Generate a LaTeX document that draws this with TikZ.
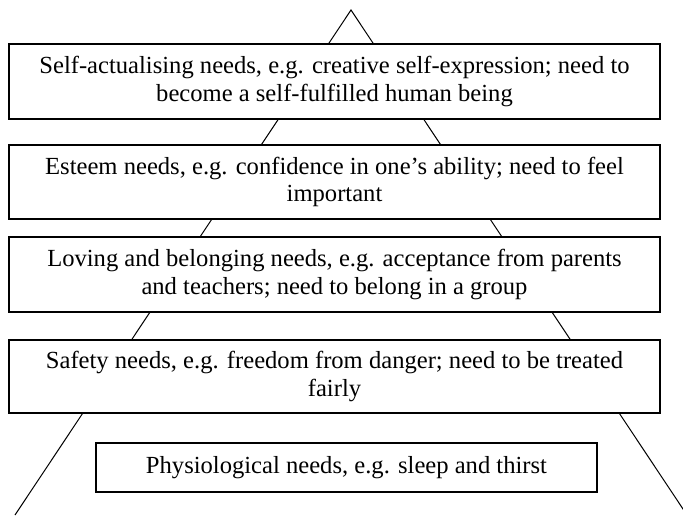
\documentclass[tikz,border=0pt]{standalone}
\usepackage{fontspec}
\setmainfont{Liberation Serif}
\begin{document}
\begin{tikzpicture}[x=1pt,y=-1pt,
  level/.style={draw, line width=1.2pt, fill=white, align=center, inner sep=0pt,
    font=\fontsize{24.6}{27.5}\selectfont},
  side/.style={line width=1pt}]
  \useasboundingbox (0,0) rectangle (683,523);
  % outline of the pyramid behind the boxes
  \coordinate (apex) at (351,10);
  \coordinate (footL) at (15,515);
  \coordinate (footR) at (687,515);
  \draw[side] (footL) -- (apex) -- (footR);
  % the five levels
  \node[level, minimum width=651pt, minimum height=75pt] (self) at (334.5,81.5)
    {Self-actualising needs, e.g. creative self-expression; need to\\become a self-fulfilled human being};
  \node[level, minimum width=651pt, minimum height=74pt] (esteem) at (334.5,182)
    {Esteem needs, e.g. confidence in one’s ability; need to feel\\important};
  \node[level, minimum width=651pt, minimum height=75pt] (love) at (334.5,274.5)
    {Loving and belonging needs, e.g. acceptance from parents\\and teachers; need to belong in a group};
  \node[level, minimum width=651pt, minimum height=73pt] (safety) at (334.5,376.5)
    {Safety needs, e.g. freedom from danger; need to be treated\\fairly};
  \node[level, minimum width=501pt, minimum height=49pt] (phys) at (346.5,467.5)
    {Physiological needs, e.g. sleep and thirst};
\end{tikzpicture}
\end{document}
